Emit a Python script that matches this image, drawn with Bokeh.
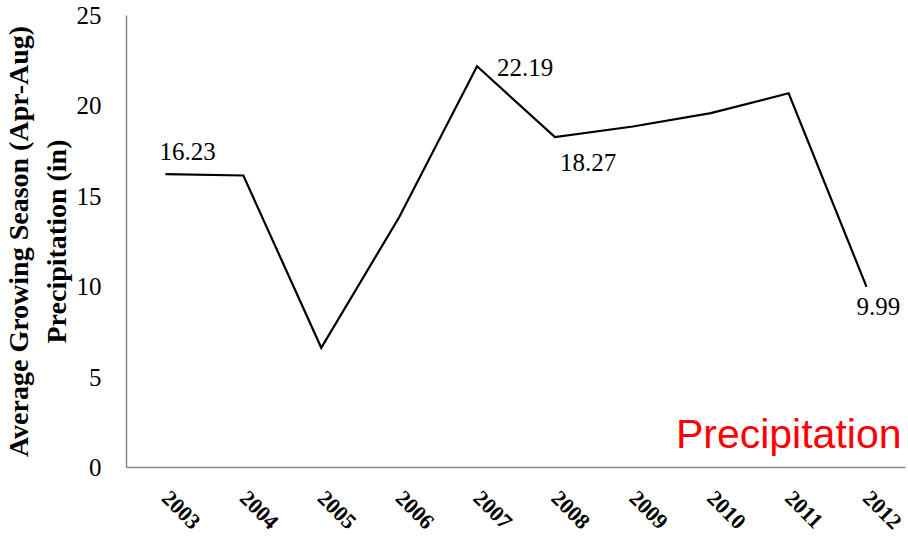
from bokeh.plotting import figure
from bokeh.models import FactorRange, Range1d, SingleIntervalTicker, Label
from bokeh.embed import file_html
from bokeh.resources import INLINE
import math

# Growing season (Apr-Aug) precipitation, inches
years = ["2003", "2004", "2005", "2006", "2007", "2008", "2009", "2010", "2011", "2012"]
precip = [16.23, 16.15, 6.62, 13.84, 22.19, 18.27, 18.86, 19.6, 20.7, 9.99]

# Years whose values are written beside the line
labelled_years = ["2003", "2007", "2008", "2012"]

SERIF = "Liberation Serif"
SANS = "Liberation Sans"
AXIS_GREY = "#868686"

p = figure(
    width=908, height=544,
    x_range=FactorRange(*years, range_padding=0),
    y_range=Range1d(0, 25),
    output_backend="svg", toolbar_location=None,
    min_border_left=125, min_border_right=3,
    min_border_top=15, min_border_bottom=77,
)
p.outline_line_color = None
p.xgrid.grid_line_color = None
p.ygrid.grid_line_color = None
p.background_fill_color = "white"
p.border_fill_color = "white"

p.line(years, precip, line_color="black", line_width=2.2, line_join="miter")

# Value labels, offset (in pixels) from their points
placement = {
    "2003": (-6, 23),
    "2007": (20, -1),
    "2008": (5, -25),
    "2012": (-10, -20),
}
for yr in labelled_years:
    i = years.index(yr)
    dx, dy = placement[yr]
    p.add_layout(Label(
        x=i + 0.5, y=precip[i], x_offset=dx, y_offset=dy,
        text=f"{precip[i]:.2f}",
        text_font=SERIF, text_font_size="25px", text_color="black",
        text_align="left", text_baseline="middle",
    ))

p.add_layout(Label(
    x=len(years), y=0.6, x_offset=-4, text="Precipitation",
    text_font=SANS, text_font_size="41px", text_color="#ff0000",
    text_align="right", text_baseline="bottom",
))

# Y axis
ya = p.yaxis[0]
ya.ticker = SingleIntervalTicker(interval=5)
ya.axis_label = "Average Growing Season (Apr-Aug)\nPrecipitation (in)"
ya.axis_label_text_font = SERIF
ya.axis_label_text_font_style = "bold"
ya.axis_label_text_font_size = "28px"
ya.axis_label_text_color = "black"
ya.axis_label_standoff = 2
ya.major_label_text_font = SERIF
ya.major_label_text_font_size = "25px"
ya.major_label_text_color = "black"
ya.major_label_standoff = 19
ya.major_tick_line_color = None
ya.minor_tick_line_color = None
ya.axis_line_color = AXIS_GREY
ya.axis_line_width = 1.5

# X axis
xa = p.xaxis[0]
xa.major_label_orientation = -math.pi / 4
xa.major_label_text_font = SERIF
xa.major_label_text_font_style = "bold"
xa.major_label_text_font_size = "22px"
xa.major_label_text_color = "black"
xa.major_label_standoff = 21
xa.major_tick_line_color = None
xa.minor_tick_line_color = None
xa.axis_line_color = AXIS_GREY
xa.axis_line_width = 1.5

open("out.html", "w").write(file_html(p, INLINE))
